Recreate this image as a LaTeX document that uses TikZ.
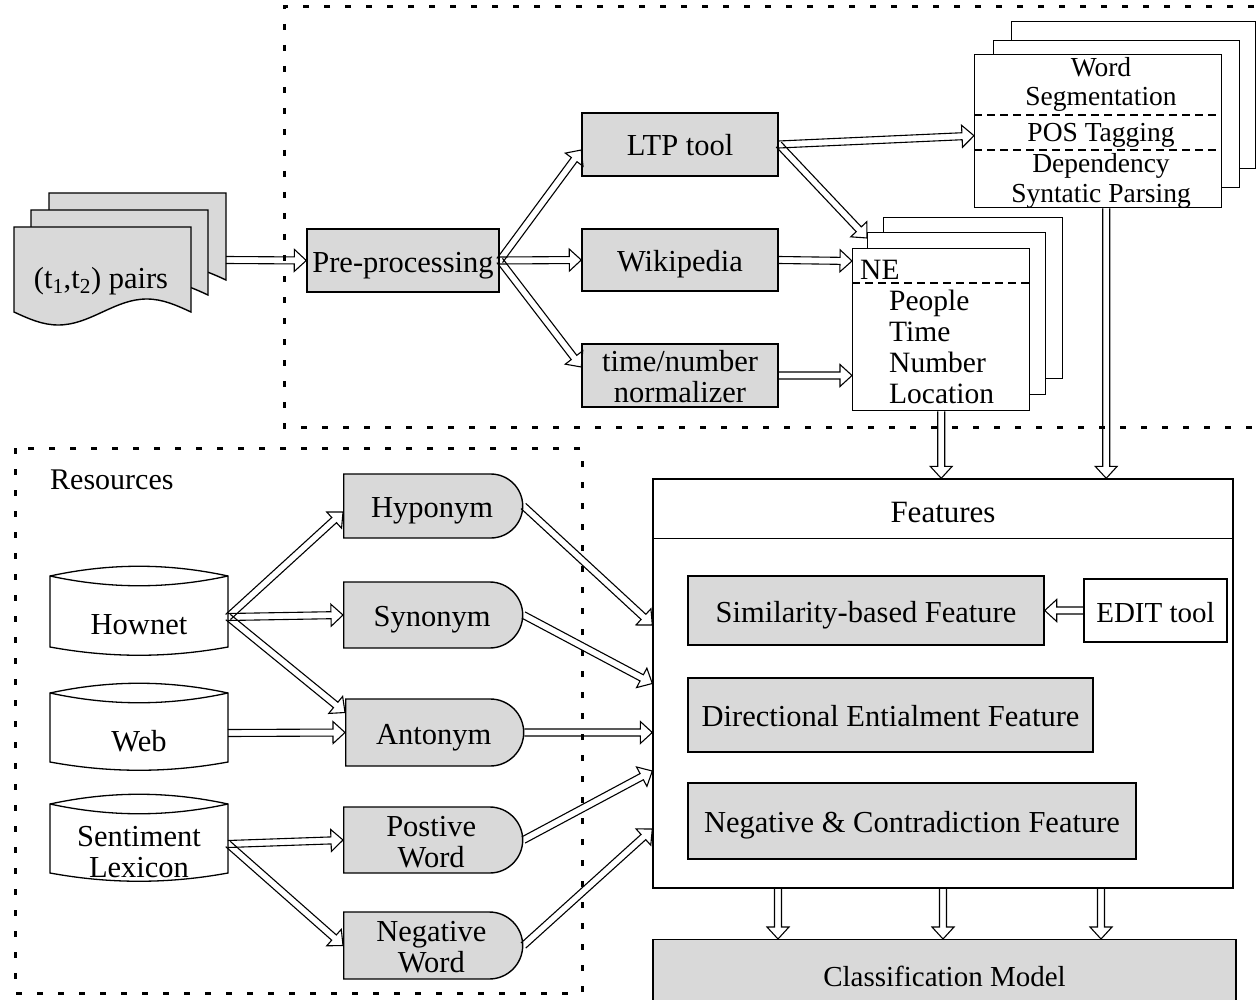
\documentclass[tikz,border=0pt]{standalone}
\usepackage{fontspec}
\setmainfont{Liberation Serif}
\usetikzlibrary{calc,shapes.misc}
\definecolor{boxgray}{RGB}{217,217,217}

\begin{document}
\begin{tikzpicture}[x=1pt,y=1pt,
  font=\fontsize{30.5}{31}\selectfont,
  oneline/.style={text height=23pt, text depth=0pt},
  twoline/.style={align=center, text height=54pt, text depth=0pt},
  box/.style={draw=black, line width=1.4pt, fill=boxgray, inner sep=0pt, oneline},
  box2/.style={box, twoline},
  wbox/.style={box, fill=white},
  page/.style={draw=black, line width=1.4pt, fill=white, inner sep=0pt},
  dbox/.style={box, rounded rectangle, rounded rectangle west arc=none, anchor=west},
  region/.style={line width=3pt, dash pattern=on 6pt off 15pt},
  sep/.style={line width=1.1pt, dash pattern=on 8pt off 5pt},
  label/.style={inner sep=0pt},
  small/.style={label, font=\fontsize{27.5}{29}\selectfont},
  netext/.style={label, anchor=base west, font=\fontsize{29.5}{31}\selectfont},
  harrow/.style={draw=black, line width=1.1pt, line join=miter, fill=none,
    to path={let \p1=(\tikztostart), \p2=(\tikztotarget),
                 \n1={atan2(\y2-\y1,\x2-\x1)} in
      ($(\p1)+(\n1+90:3.5pt)$)
      -- ($(\p2)+(\n1+180:12pt)+(\n1+90:3.5pt)$)
      -- ($(\p2)+(\n1+180:12pt)+(\n1+90:11pt)$)
      -- (\p2)
      -- ($(\p2)+(\n1+180:12pt)+(\n1-90:11pt)$)
      -- ($(\p2)+(\n1+180:12pt)+(\n1-90:3.5pt)$)
      -- ($(\p1)+(\n1-90:3.5pt)$)}},
]
\useasboundingbox (0,0) rectangle (1257,-1000);

% dashed regions
\draw[region] (1275,-7) -- (284,-7) -- (284,-427) -- (1275,-427);
\draw[region] (15,-448) rectangle (582,-993);

% stack of input documents
\foreach \l/\t/\b in {49/193/280, 31/210/295, 14/227/312} {
  \draw[line width=1.4pt, fill=boxgray]
    (\l,-\b) sin ++(44.25,-13) cos ++(44.25,13) sin ++(44.25,13) cos ++(44.25,-13)
    -- ++(0,\b-\t) -- ++(-177,0) -- cycle;
}
\node[label, anchor=base] (pairs) at (101,-288) {(t\textsubscript{1},t\textsubscript{2}) pairs};
\coordinate (docout) at (226,-260);

% preprocessing stage
\node[box, minimum width=192, minimum height=63] (pre) at (403,-260.5) {Pre-processing};
\node[box, minimum width=196, minimum height=63] (ltp) at (680,-144.5) {LTP tool};
\node[box, minimum width=196, minimum height=62] (wiki) at (680,-260) {Wikipedia};
\node[box2, minimum width=196, minimum height=63] (norm) at (680,-375.5) {time/number\\normalizer};

% LTP output pages
\node[page, minimum width=244, minimum height=147, anchor=north west] (wback) at (1011,-21) {};
\node[page, minimum width=246, minimum height=147, anchor=north west] (wmid) at (993,-40) {};
\node[page, minimum width=247, minimum height=153, anchor=north west] (wfront) at (974,-54) {};
\draw[sep] ([yshift=-61pt]wfront.north west) -- ([yshift=-61pt]wfront.north east);
\draw[sep] ([yshift=-96pt]wfront.north west) -- ([yshift=-96pt]wfront.north east);
\node[small, anchor=base] (w1) at (1101,-77) {Word};
\node[small, anchor=base] (w2) at (1101,-106) {Segmentation};
\node[small, anchor=base] (w3) at (1101,-142) {POS Tagging};
\node[small, anchor=base] (w4) at (1101,-173) {Dependency};
\node[small, anchor=base] (w5) at (1101,-203) {Syntatic Parsing};

% named entity pages
\node[page, minimum width=179, minimum height=161, anchor=north west] (neback) at (883,-217) {};
\node[page, minimum width=178, minimum height=162, anchor=north west] (nemid) at (867,-232) {};
\node[page, minimum width=177, minimum height=162, anchor=north west] (nefront) at (852,-248) {};
\draw[sep] ([yshift=-35pt]nefront.north west) -- ([yshift=-35pt]nefront.north east);
\node[netext] (netitle) at (860,-279) {NE};
\node[netext] (ne1) at (889,-310) {People};
\node[netext] (ne2) at (889,-341) {Time};
\node[netext] (ne3) at (889,-372) {Number};
\node[netext] (ne4) at (889,-403) {Location};

% features block
\node[draw, line width=1.4pt, fill=white, minimum width=580, minimum height=409] (feat) at (943,-683.5) {};
\draw[line width=1.4pt] ([yshift=-60pt]feat.north west) -- ([yshift=-60pt]feat.north east);
\node[label, anchor=base, font=\fontsize{31}{31}\selectfont] (feattitle) at (943,-522) {Features};
\node[box, minimum width=356, minimum height=69] (sim) at (866,-610.5) {Similarity-based Feature};
\node[wbox, minimum width=143, minimum height=63, font=\fontsize{29}{31}\selectfont] (edit) at (1155.5,-610.5) {EDIT tool};
\node[box, minimum width=405, minimum height=74] (dir) at (890.5,-715) {Directional Entialment Feature};
\node[box, minimum width=448, minimum height=76] (negf) at (912,-821) {Negative \& Contradiction Feature};
\node[box, minimum width=583, minimum height=70, anchor=north, font=\fontsize{29}{31}\selectfont] (cls) at (944.5,-939) {Classification Model};

% resources
\node[label, anchor=base west, font=\fontsize{30}{30}\selectfont] (res) at (50,-489) {Resources};
\foreach \t/\b in {576/647, 693/762, 804/873} {
  \draw[line width=1.3pt, fill=white]
    (50,-\t) .. controls (110,-\t+13) and (168,-\t+13) .. (228,-\t)
    -- (228,-\b) .. controls (168,-\b-11) and (110,-\b-11) .. (50,-\b) -- cycle;
  \draw[line width=1.3pt] (50,-\t) .. controls (110,-\t-13) and (168,-\t-13) .. (228,-\t);
}
\node[label, anchor=base] (hownet) at (139,-634) {Hownet};
\node[label, anchor=base] (web) at (139,-751) {Web};
\node[label, twoline] (senti) at (139,-850) {Sentiment\\Lexicon};
\coordinate (hownet-e) at (228,-617);
\coordinate (web-e) at (228,-733);
\coordinate (senti-e) at (228,-844);

\node[dbox, minimum width=179, minimum height=64] (hypo) at (343,-506) {Hyponym};
\node[dbox, minimum width=179, minimum height=66] (syno) at (343,-615) {Synonym};
\node[dbox, minimum width=178, minimum height=67] (anto) at (345,-732.5) {Antonym};
\node[dbox, twoline, minimum width=179, minimum height=66] (post) at (343,-840)
  {\hspace*{10pt}Postive\\\hspace*{10pt}Word};
\node[dbox, twoline, minimum width=179, minimum height=67] (nega) at (343,-945.5)
  {\hspace*{10pt}Negative\\\hspace*{10pt}Word};

% connector end points
\coordinate (ltp-in) at ([yshift=-5.5pt]ltp.west);
\coordinate (norm-in) at ([yshift=8.5pt]norm.west);
\coordinate (wf-in) at ([yshift=-4.5pt]wfront.west);
\coordinate (nm-in) at ([yshift=-6pt]nemid.north west);
\coordinate (ne-in1) at ([yshift=-13pt]nefront.north west);
\coordinate (ne-in2) at ([yshift=-127.5pt]nefront.north west);
\coordinate (ne-out) at (nefront.south);
\coordinate (feat-in1) at (ne-out |- feat.north);
\coordinate (wf-out) at ([xshift=8pt]wfront.south);
\coordinate (feat-in2) at (wf-out |- feat.north);
\coordinate (fo1) at ([xshift=-165pt]feat.south);
\coordinate (fo2) at (feat.south);
\coordinate (fo3) at ([xshift=158pt]feat.south);
\coordinate (ci1) at (fo1 |- cls.north);
\coordinate (ci2) at (fo2 |- cls.north);
\coordinate (ci3) at (fo3 |- cls.north);
\coordinate (hypo-in) at ([yshift=-6pt]hypo.west);
\coordinate (anto-in) at ([yshift=20pt]anto.west);
\coordinate (fa) at ([yshift=58.5pt]feat.west);
\coordinate (fb) at (feat.west);
\coordinate (fc) at (feat.west |- anto.east);
\coordinate (fd) at ([yshift=-87.5pt]feat.west);
\coordinate (fe) at ([yshift=-145.5pt]feat.west);

% connectors
\draw[harrow] (docout) to (pre.west);
\draw[harrow] (pre.east) to (ltp-in);
\draw[harrow] (pre.east) to (wiki.west);
\draw[harrow] (pre.east) to (norm-in);
\draw[harrow] (ltp.east) to (wf-in);
\draw[harrow] (ltp.east) to (nm-in);
\draw[harrow] (wiki.east) to (ne-in1);
\draw[harrow] (norm.east) to (ne-in2);
\draw[harrow] (ne-out) to (feat-in1);
\draw[harrow] (wf-out) to (feat-in2);
\draw[harrow] (edit.west) to (sim.east);
\draw[harrow] (fo1) to (ci1);
\draw[harrow] (fo2) to (ci2);
\draw[harrow] (fo3) to (ci3);

\draw[harrow] (hownet-e) to (hypo-in);
\draw[harrow] (hownet-e) to (syno.west);
\draw[harrow] (hownet-e) to (anto-in);
\draw[harrow] (web-e) to (anto.west);
\draw[harrow] (senti-e) to (post.west);
\draw[harrow] (senti-e) to (nega.west);
\draw[harrow] (hypo.east) to (fa);
\draw[harrow] (syno.east) to (fb);
\draw[harrow] (anto.east) to (fc);
\draw[harrow] (post.east) to (fd);
\draw[harrow] (nega.east) to (fe);
\end{tikzpicture}
\end{document}
